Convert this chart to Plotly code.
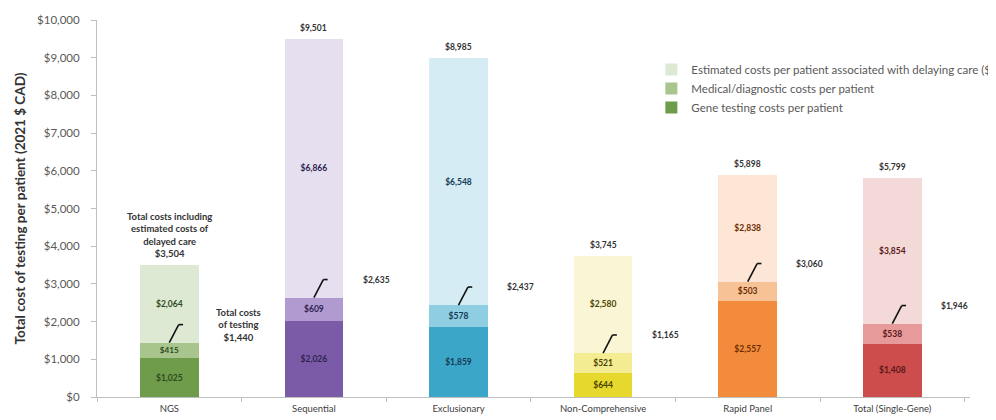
import plotly.graph_objects as go

categories = ["NGS", "Sequential", "Exclusionary", "Non-Comprehensive", "Rapid Panel", "Total (Single-Gene)"]
gene_costs = [1025, 2026, 1859, 644, 2557, 1408]
medical_costs = [415, 609, 578, 521, 503, 538]
delay_costs = [2064, 6866, 6548, 2580, 2838, 3854]
testing_totals = [1440, 2635, 2437, 1165, 3060, 1946]
overall_totals = [3504, 9501, 8985, 3745, 5898, 5799]

series_names = [
    "Gene testing costs per patient",
    "Medical/diagnostic costs per patient",
    "Estimated costs per patient associated with delaying care ($)",
]

gene_colors = ["#6f9c4b", "#7b5ba8", "#3ca6c8", "#e6d82c", "#f38b3c", "#cd4d4d"]
medical_colors = ["#a8c58e", "#b19ad0", "#8fcde3", "#f3ec93", "#f8c297", "#e69a9a"]
delay_colors = ["#dde9d3", "#e6dff0", "#d5ecf5", "#faf6d5", "#fde6d5", "#f4d9d9"]
label_colors = ["#2f4a1f", "#2e2450", "#153a55", "#4a4300", "#6a2d00", "#5a1818"]

FONT = "Lato"
fig = go.Figure()
for name, vals, cols in [
    (series_names[0], gene_costs, gene_colors),
    (series_names[1], medical_costs, medical_colors),
    (series_names[2], delay_costs, delay_colors),
]:
    fig.add_trace(go.Bar(
        name=name, x=categories, y=vals,
        marker=dict(color=cols, line=dict(width=0)),
        texttemplate="$%{y:,}", textposition="inside", insidetextanchor="middle",
        textangle=0,
        textfont=dict(family=FONT, size=8.5, color=label_colors, weight="bold"),
        hoverinfo="skip",
    ))

# totals above bars
for i, (cat, tot) in enumerate(zip(categories, overall_totals)):
    if i == 0:
        txt = "Total costs including<br>estimated costs of<br>delayed care<br>$" + f"{tot:,}"
        size = 9.5
    else:
        txt = "$" + f"{tot:,}"
        size = 8.5
    fig.add_annotation(x=i, y=tot, text=txt, showarrow=False, yanchor="bottom", yshift=4,
                       font=dict(family=FONT, size=size, color="#333333", weight="bold"))

# testing totals with connectors
for i, tt in enumerate(testing_totals):
    top = tt + 480
    fig.add_shape(type="line", xref="x", yref="y", x0=i, y0=tt, x1=i + 0.065, y1=top,
                  line=dict(color="#111111", width=1.6))
    fig.add_shape(type="line", xref="x", yref="y", x0=i + 0.065, y0=top, x1=i + 0.095, y1=top,
                  line=dict(color="#111111", width=1.6))
    if i == 0:
        txt = "Total costs<br>of testing<br>$" + f"{tt:,}"
        fig.add_annotation(x=i + 0.48, y=tt + 460, text=txt, showarrow=False,
                           font=dict(family=FONT, size=9.5, color="#333333", weight="bold"))
    else:
        fig.add_annotation(x=i + 0.43, y=tt + 470, text="$" + f"{tt:,}", showarrow=False,
                           font=dict(family=FONT, size=8.5, color="#333333", weight="bold"))

fig.update_layout(
    width=988, height=412,
    barmode="stack", bargap=0.595,
    margin=dict(l=89, r=26, t=12, b=23, autoexpand=False),
    plot_bgcolor="white", paper_bgcolor="white",
    font=dict(family=FONT, size=9, color="#595959"),
    showlegend=True,
    legend=dict(x=0.635, y=0.907, xanchor="left", yanchor="top", traceorder="reversed",
                font=dict(family=FONT, size=11.5, color="#595959"), tracegroupgap=0,
                bgcolor="rgba(0,0,0,0)"),
    xaxis=dict(type="category", showline=True, linecolor="#bfbfbf", linewidth=1,
               ticks="outside", ticklen=4, tickcolor="#bfbfbf", tickson="boundaries",
               automargin=False, ticklabelstandoff=3,
               tickfont=dict(family=FONT, size=9.5, color="#404040"), showgrid=False),
    yaxis=dict(range=[0, 10000], dtick=1000, tickprefix="$", tickformat=",d",
               showline=True, linecolor="#bfbfbf", linewidth=1, ticks="outside", ticklen=5,
               tickcolor="#bfbfbf", showgrid=False, zeroline=False, ticklabelstandoff=9,
               automargin=False,
               tickfont=dict(family=FONT, size=11.5, color="#595959"),
               title=dict(text="Total cost of testing per patient (2021 $ CAD)", standoff=8,
                          font=dict(family=FONT, size=13.5, color="#333333", weight="bold"))),
)

fig.write_html("out.html")
